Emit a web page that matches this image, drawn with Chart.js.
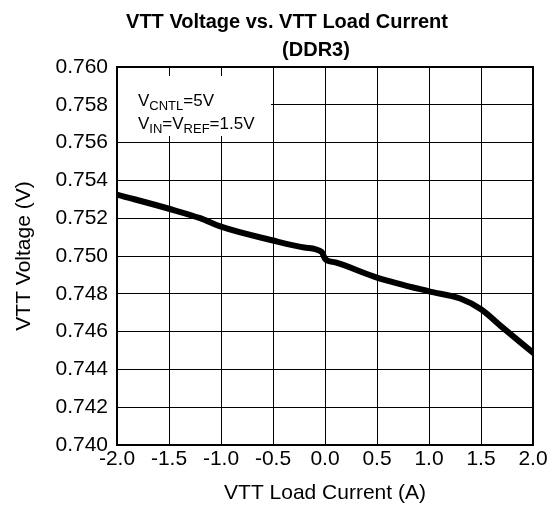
<!DOCTYPE html>
<html>
<head>
<meta charset="utf-8">
<script src="https://cdn.jsdelivr.net/npm/chart.js@4/dist/chart.umd.min.js"></script>
<style>
  html, body { margin: 0; padding: 0; background: #fff; }
  #wrap { width: 557px; height: 519px; }
</style>
</head>
<body>
<div id="wrap"><canvas id="grafico" width="557" height="519"></canvas></div>
<script>
const grafico_canvas = document.getElementById("grafico");

// load current (A) and VTT voltage (V)
const currentA = [-2.0, -1.5, -1.2, -1.0, -0.5, -0.2, -0.03, 0.0, 0.1, 0.5, 1.0, 1.3, 1.5, 1.7, 2.0];
const voltageV = [0.75325, 0.7525, 0.752, 0.75155, 0.75082, 0.75045, 0.7502, 0.74985, 0.74966, 0.74886, 0.74813, 0.74775, 0.74718, 0.74625, 0.74488];

const titleLines = ["VTT Voltage vs. VTT Load Current", "(DDR3)"];
const xTitle = "VTT Load Current (A)";
const yTitle = "VTT Voltage (V)";

const FONT = "'Liberation Sans', Arial, sans-serif";

// text box in the upper left corner: V_CNTL=5V, V_IN=V_REF=1.5V
const conditions = [
  [["V", false], ["CNTL", true], ["=5V", false]],
  [["V", false], ["IN", true], ["=V", false], ["REF", true], ["=1.5V", false]],
];

const titlePlugin = {
  id: "twoLineTitle",
  afterDraw(chart) {
    const ctx = chart.ctx;
    ctx.save();
    ctx.fillStyle = "#000";
    ctx.font = "bold 20px " + FONT;
    ctx.textAlign = "center";
    ctx.textBaseline = "middle";
    ctx.fillText(titleLines[0], 287, 22);
    ctx.fillText(titleLines[1], 316, 50);
    ctx.restore();
  },
};

const notePlugin = {
  id: "note",
  beforeDatasetsDraw(chart) {
    const { ctx, chartArea } = chart;
    // white patch behind the note hides the grid there
    ctx.save();
    ctx.fillStyle = "#fff";
    ctx.fillRect(chartArea.left + 1, chartArea.top + 9, 270 - chartArea.left, 60);
    ctx.restore();
  },
  afterDatasetsDraw(chart) {
    const { ctx, chartArea } = chart;
    ctx.save();
    ctx.fillStyle = "#000";
    ctx.textBaseline = "alphabetic";
    conditions.forEach((line, i) => {
      let x = chartArea.left + 21;
      const base = chartArea.top + 39 + i * 23;
      line.forEach(([txt, sub]) => {
        ctx.font = (sub ? "13px " : "17px ") + FONT;
        ctx.fillText(txt, x, sub ? base + 4 : base);
        x += ctx.measureText(txt).width;
      });
    });
    ctx.restore();
  },
};

const points = currentA.map((c, i) => ({ x: c, y: voltageV[i] }));

const config = {
  type: "scatter",
  data: {
    datasets: [
      {
        data: points,
        showLine: true,
        borderColor: "#000",
        backgroundColor: "#000",
        borderWidth: 6,
        pointRadius: 0,
        cubicInterpolationMode: "monotone",
        borderJoinStyle: "round",
        borderCapStyle: "round",
      },
    ],
  },
  options: {
    responsive: false,
    animation: false,
    layout: { padding: { left: 0, right: 24, top: 67, bottom: 0 } },
    plugins: {
      legend: { display: false },
      tooltip: { enabled: false },
      title: { display: false },
    },
    scales: {
      x: {
        type: "linear",
        min: -2,
        max: 2,
        afterFit: (scale) => { scale.height = 74; },
        ticks: {
          stepSize: 0.5,
          color: "#000",
          font: { family: FONT, size: 21 },
          padding: 2,
          maxRotation: 0,
          callback: (v) => v.toFixed(1),
        },
        grid: { color: "#000", lineWidth: 1, drawTicks: false },
        border: { color: "#000", width: 2 },
        title: {
          display: true,
          text: xTitle,
          color: "#000",
          font: { family: FONT, size: 21 },
          padding: { top: 0, bottom: 13 },
        },
      },
      y: {
        type: "linear",
        min: 0.74,
        max: 0.76,
        afterFit: (scale) => { scale.width = 117; },
        ticks: {
          stepSize: 0.002,
          color: "#000",
          font: { family: FONT, size: 21 },
          padding: 9,
          callback: (v) => v.toFixed(3),
        },
        grid: { color: "#000", lineWidth: 1, drawTicks: false },
        border: { color: "#000", width: 2 },
        title: {
          display: true,
          text: yTitle,
          color: "#000",
          font: { family: FONT, size: 21 },
          padding: { top: 12, bottom: 0 },
        },
      },
    },
  },
  plugins: [
    notePlugin,
    titlePlugin,
    {
      id: "frame",
      afterDraw(chart) {
        const { ctx, chartArea: a } = chart;
        ctx.save();
        ctx.strokeStyle = "#000";
        ctx.lineWidth = 2;
        ctx.strokeRect(a.left, a.top, a.right - a.left, a.bottom - a.top);
        ctx.restore();
      },
    },
  ],
};

new Chart(grafico_canvas, config);
</script>
</body>
</html>
